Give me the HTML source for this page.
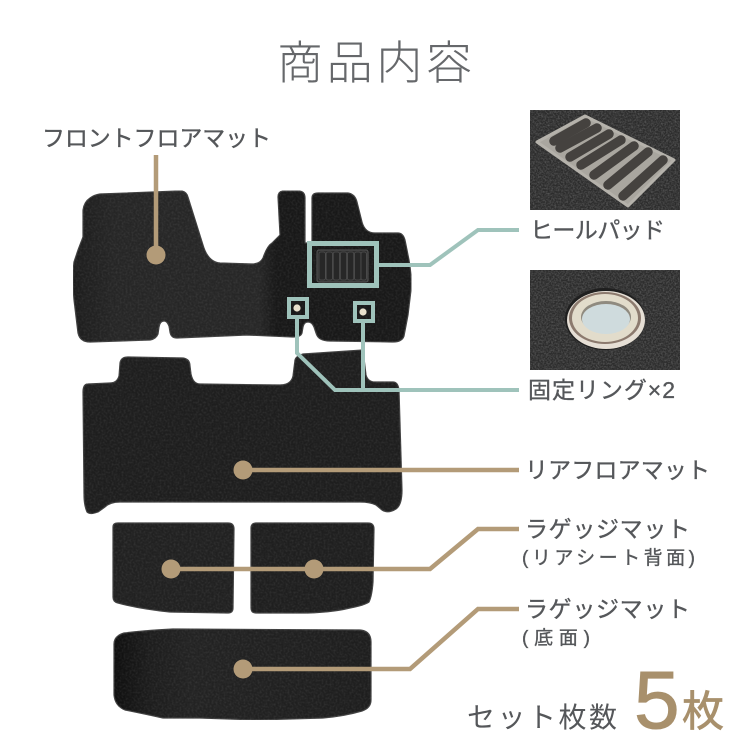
<!DOCTYPE html>
<html lang="ja"><head><meta charset="utf-8"><title>商品内容</title>
<style>
html,body{margin:0;padding:0;background:#fff}
svg{display:block}
text{font-family:"Liberation Sans","Noto Sans CJK JP",sans-serif;fill:#55575a}
.l{stroke:#55575a;stroke-width:.35px}
</style></head><body>
<svg xmlns="http://www.w3.org/2000/svg" width="750" height="750" viewBox="0 0 750 750">
<defs>
<filter id="n" x="0" y="0" width="100%" height="100%" color-interpolation-filters="sRGB">
<feTurbulence type="fractalNoise" baseFrequency="0.5" numOctaves="2" seed="3"/>
<feColorMatrix values="0 0 0 0 1  0 0 0 0 1  0 0 0 0 1  0.16 0 0 0 -0.06"/>
<feComposite in2="SourceAlpha" operator="in" result="g"/>
<feMerge><feMergeNode in="SourceGraphic"/><feMergeNode in="g"/></feMerge>
</filter>
<filter id="p" x="0" y="0" width="100%" height="100%" color-interpolation-filters="sRGB">
<feTurbulence type="fractalNoise" baseFrequency="0.6" numOctaves="2" seed="7"/>
<feColorMatrix values="0 0 0 0 1  0 0 0 0 1  0 0 0 0 1  0.4 0 0 0 -0.14"/>
<feComposite in2="SourceAlpha" operator="in" result="g"/>
<feMerge><feMergeNode in="SourceGraphic"/><feMergeNode in="g"/></feMerge>
</filter>
<linearGradient id="fm" x1="0" x2="1" y1="0" y2="0">
<stop offset="0" stop-color="#1d1d1d"/><stop offset=".12" stop-color="#262626"/><stop offset=".55" stop-color="#272727"/><stop offset=".6" stop-color="#181818"/><stop offset="1" stop-color="#191919"/>
</linearGradient>
<linearGradient id="bm" x1="0" x2="1" y1="0" y2="0">
<stop offset="0" stop-color="#0f0f0f"/><stop offset=".14" stop-color="#1d1d1d"/><stop offset=".3" stop-color="#232323"/><stop offset="1" stop-color="#1e1e1e"/>
</linearGradient>
</defs>

<text x="277" y="79" font-size="46" textLength="195" lengthAdjust="spacing" font-weight="300" style="fill:#66686b">商品内容</text>

<!-- mats -->
<g stroke="#3e3e3e" stroke-width="1.2" stroke-linejoin="round" filter="url(#n)">
<path fill="url(#fm)" d="M100 194 L178 191 Q186 190 188 197 L203 245 Q208 262 220 263 L252 264 Q260 264 263 258 Q267 246 272 243 L280 235 L278 197 Q278 191 284 191 L298 191 Q305 191 305 198 L305 243 L312 243 L312 198 Q312 193 318 193 L348 193 Q355 194 357 202 L362 222 Q365 233 375 233 L398 233 Q403 233 405 240 L409 260 Q412 277 411 290 L408 315 L404 336 Q402 342 393 342 L330 341 Q318 341 316 333 L314 327 Q312 322 308 322 Q304 322 303 327 L302 333 Q301 337 293 337 L247 335 L177 338 Q171 338 170 332 L169 326 Q167 321 164 321 Q160 321 159 327 L158 334 Q156 339 150 340 L90 342 Q80 342 78 333 L74 300 Q72 277 74 262 L78 250 L83 237 L83 210 Q84 202 90 198 Q94 195 100 194 Z"/>
<path fill="#1e1e1e" d="M120 363 Q121 357 128 357 L183 358 Q190 359 190 366 L191 374 Q193 384 200 384 L280 385 Q291 385 293 376 L295 360 Q296 356 303 354 L363 350 L366 375 Q368 382 375 382 L393 382 Q398 382 399 390 L402 490 Q402 505 396 509 Q388 514 382 510 L376 505 Q370 502 360 502 L120 502 Q110 502 105 507 L98 512 Q90 515 87 512 Q84 505 84 495 L83 392 Q83 384 88 384 L110 383 Q117 383 119 376 Z"/>
<path fill="#212121" d="M113 527 Q113 523 118 523 L228 523 Q234 523 234 529 L233 608 Q233 613 228 613 L170 612 Q140 609 118 603 Q113 602 113 597 Z"/>
<path fill="#1f1f1f" d="M251 528 Q251 523 256 523 L368 523 Q374 523 374 529 L373 582 Q372 596 369 602 Q365 605 350 608 Q330 613 300 613 L256 613 Q251 613 251 608 Z"/>
<path fill="url(#bm)" d="M114 644 Q114 636 124 633 Q150 630 173 629 L360 630 Q371 631 371 642 L371 700 Q371 708 362 711 Q345 716 323 718 L257 720 L200 718 L163 718 Q140 713 125 710 Q115 706 114 695 Z"/>
</g>

<!-- heel pad on mat -->
<rect x="317" y="250" width="51" height="32" rx="2" fill="#2e2e2e" stroke="#565656" stroke-width="1"/>
<g fill="#272727" stroke="#505050" stroke-width=".8">
<rect x="319" y="252" width="6.4" height="28" rx="2"/><rect x="326.1" y="252" width="6.4" height="28" rx="2"/><rect x="333.2" y="252" width="6.4" height="28" rx="2"/><rect x="340.3" y="252" width="6.4" height="28" rx="2"/><rect x="347.4" y="252" width="6.4" height="28" rx="2"/><rect x="354.5" y="252" width="6.4" height="28" rx="2"/><rect x="361" y="252" width="5.4" height="28" rx="2"/>
</g>
<circle cx="297" cy="308" r="3.6" fill="#e8e0cc"/><circle cx="363" cy="312" r="3.6" fill="#e8e0cc"/>

<!-- teal connectors -->
<g fill="none" stroke="#9fc3bb" stroke-width="4">
<rect x="309.5" y="243.500" width="67" height="42" stroke-width="5"/>
<rect x="289" y="299" width="18" height="18"/>
<rect x="355" y="303" width="18" height="18"/>
<path d="M378 265 H430 L478 230 H519"/>
<path d="M297 319 V353 L335 390 H519"/>
<path d="M363 322 V390"/>
</g>

<!-- tan connectors -->
<g fill="none" stroke="#b39b78" stroke-width="4.500">
<path d="M156 155 V255"/>
<path d="M243 470 H519"/>
<path d="M171 569 H430 L478 529 H519"/>
<path d="M243 669 H410 L478 609 H519"/>
</g>
<g fill="#b39b78">
<circle cx="156" cy="255" r="9.500"/><circle cx="243" cy="470" r="9.500"/><circle cx="171" cy="569" r="9.500"/><circle cx="314" cy="569" r="9.500"/><circle cx="243" cy="669" r="9.500"/>
</g>

<!-- photo 1 -->
<rect x="530" y="110" width="150" height="100" fill="#2c2c2c" filter="url(#p)"/>
<path d="M585 116 L674 160 L628 206 L537 142 Z" fill="#a9a69f" stroke="#b5b2ab" stroke-width="3" stroke-linejoin="round"/>
<g stroke="#45423f" stroke-width="9.500" stroke-linecap="round">
<path d="M554 141 L586 123"/><path d="M560 148 L597 128"/><path d="M570 157 L609 134"/><path d="M581 165 L621 140"/><path d="M594 175 L634 146"/><path d="M608 185 L648 152"/><path d="M623 196 L663 160"/>
</g>

<!-- photo 2 -->
<rect x="530" y="270" width="150" height="100" fill="#2c2c2c" filter="url(#p)"/>
<ellipse cx="605" cy="319" rx="40" ry="31" fill="#1f1f1f"/>
<ellipse cx="606" cy="320" rx="39" ry="29" fill="#e6dfd5"/>
<ellipse cx="605" cy="318" rx="36" ry="26" fill="#8c7a6e"/>
<ellipse cx="605" cy="318" rx="33" ry="24" fill="#e2dccb"/>
<ellipse cx="606" cy="317" rx="25" ry="16" fill="#8f8a7f"/>
<ellipse cx="606" cy="319" rx="24" ry="15" fill="#cfdbdd"/>

<!-- labels -->
<text class="l" x="42" y="146" font-size="23" textLength="229" lengthAdjust="spacing">フロントフロアマット</text>
<text class="l" x="530" y="238" font-size="23" textLength="135" lengthAdjust="spacing">ヒールパッド</text>
<text class="l" x="528" y="398" font-size="23" textLength="147" lengthAdjust="spacing">固定リング×2</text>
<text class="l" x="525" y="478" font-size="23" textLength="185" lengthAdjust="spacing">リアフロアマット</text>
<text class="l" x="525" y="537" font-size="23" textLength="165" lengthAdjust="spacing">ラゲッジマット</text>
<text class="l" x="522" y="564" font-size="19" textLength="173" lengthAdjust="spacing">(リアシート背面)</text>
<text class="l" x="525" y="617" font-size="23" textLength="165" lengthAdjust="spacing">ラゲッジマット</text>
<text class="l" x="522" y="644" font-size="19" textLength="68" lengthAdjust="spacing">(底面)</text>
<text x="467" y="727" font-size="28" textLength="150" lengthAdjust="spacing">セット枚数</text>
<text x="634" y="728" font-size="82" style="fill:#a8906c;stroke:#a8906c;stroke-width:1px">5</text>
<text x="682" y="726" font-size="42" style="fill:#a8906c;stroke:#a8906c;stroke-width:.8px">枚</text>
</svg>
</body></html>
